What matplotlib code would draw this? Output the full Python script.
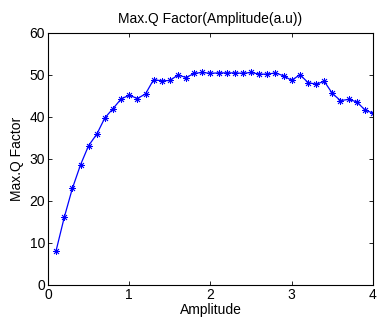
import matplotlib
matplotlib.use("Agg")
import matplotlib.pyplot as plt
import numpy as np

amplitude = [round(0.1 * i, 1) for i in range(1, 41)]
q_factor = [8.2, 16.1, 23.0, 28.6, 33.2, 35.9, 39.8, 42.0, 44.3, 45.2,
            44.4, 45.5, 48.9, 48.6, 48.7, 50.0, 49.4, 50.4, 50.6, 50.4,
            50.5, 50.5, 50.5, 50.4, 50.6, 50.2, 50.2, 50.5, 49.8, 48.7,
            50.1, 48.2, 47.8, 48.5, 45.6, 43.9, 44.2, 43.6, 41.7, 40.9]
xticks = [0, 1, 2, 3, 4]
yticks = [0, 10, 20, 30, 40, 50, 60]

plt.rcParams['font.family'] = ['Liberation Sans', 'DejaVu Sans']
plt.rcParams['font.size'] = 10

fig = plt.figure(figsize=(3.77, 3.25), dpi=100)
ax = fig.add_axes([48/377, 40/325, 325/377, 252/325])
ax.plot(amplitude, q_factor, color='#0000ff', marker=(8, 2, 0), markersize=5,
        linewidth=0.9, markeredgewidth=0.6)
ax.set_xlim(0, 4)
ax.set_ylim(0, 60)
ax.set_xticks(xticks)
ax.set_yticks(yticks)
ax.tick_params(direction='in', length=3, width=0.6, top=True, right=True, pad=2,
               labelsize=10)
for s in ax.spines.values():
    s.set_linewidth(0.8)
ax.set_title('Max.Q Factor(Amplitude(a.u))', fontsize=10, pad=7)
ax.set_xlabel('Amplitude', fontsize=10, labelpad=1)
ax.set_ylabel('Max.Q Factor', fontsize=10, labelpad=4)
fig.savefig('out.png', dpi=100)
